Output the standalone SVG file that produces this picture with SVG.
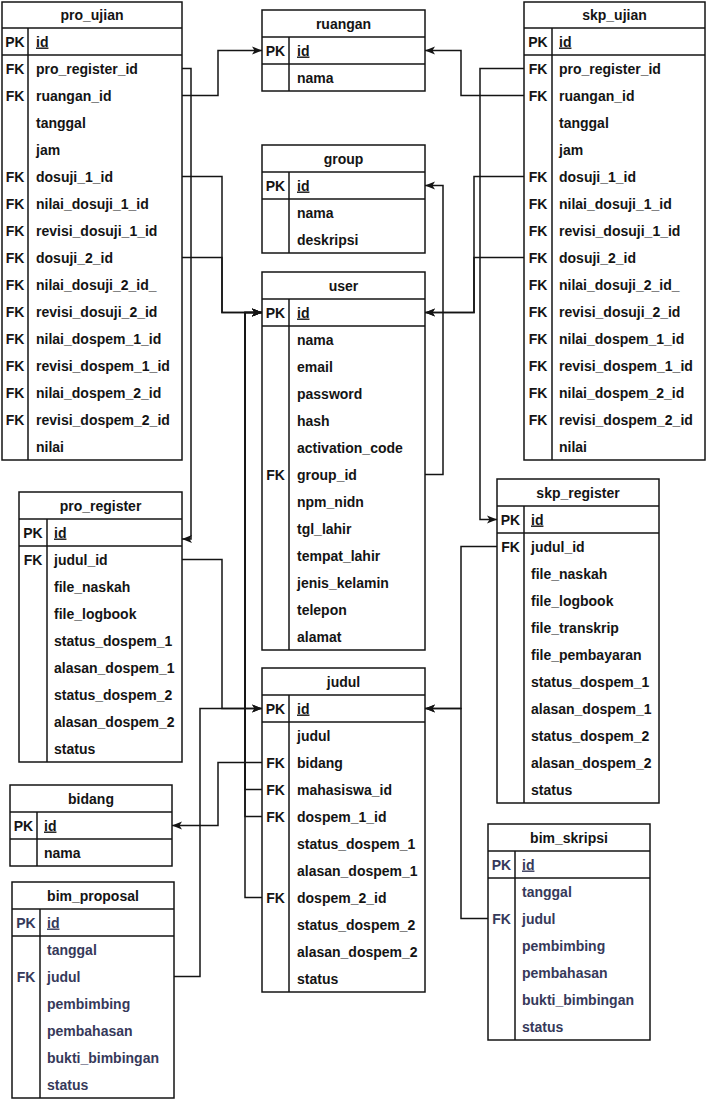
<svg xmlns="http://www.w3.org/2000/svg" width="706" height="1099" viewBox="0 0 706 1099">
<style>
.box{fill:#fff;stroke:#141414;stroke-width:1.5}
.ln{stroke:#141414;stroke-width:1.5;fill:none}
.t{font-family:"Liberation Sans",Arial,sans-serif;font-size:14px;font-weight:bold;fill:#141414}
.c{text-anchor:middle}
.u{text-decoration:underline}
.n{fill:#36395a}
.e{fill:none;stroke:#141414;stroke-width:1.5;marker-end:url(#arr)}
</style>
<defs>
<marker id="arr" markerUnits="userSpaceOnUse" markerWidth="10" markerHeight="10" refX="10" refY="5" orient="auto">
<path d="M0,1 L10,5 L0,9 L2.5,5 z" fill="#141414"/>
</marker>
</defs>
<rect width="706" height="1099" fill="#fff"/>

<g id="connectors">
<path class="e" d="M182,95.5 H218 V50.5 H262"/>
<path class="e" d="M524,95.5 H461 V50.5 H425"/>
<path class="e" d="M182,68.5 H191 V539 H182"/>
<path class="e" d="M182,176.5 H222 V312.5 H262"/>
<path class="e" d="M182,257.5 H222 V312.5 H262"/>
<path class="e" d="M524,176.5 H474 V312.5 H425"/>
<path class="e" d="M524,257.5 H474 V312.5 H425"/>
<path class="e" d="M524,68.5 H480 V519.5 H497"/>
<path class="e" d="M425,474.5 H443 V185.5 H425"/>
<path class="e" d="M182,559.5 H222 V708.5 H262"/>
<path class="e" d="M174,976.5 H200 V708.5 H262"/>
<path class="e" d="M262,762.5 H218 V825.5 H172"/>
<path class="e" d="M262,789.5 H245 V312.5 H262"/>
<path class="e" d="M262,816.5 H245 V312.5 H262"/>
<path class="e" d="M262,897.5 H245 V312.5 H262"/>
<path class="e" d="M497,546.5 H461 V708.5 H425"/>
<path class="e" d="M488,918.5 H461 V708.5 H425"/>
</g>

<g id="pro_ujian">
<rect class="box" x="2" y="2" width="180" height="458"/>
<line class="ln" x1="2" y1="28" x2="182" y2="28"/>
<line class="ln" x1="2" y1="55" x2="182" y2="55"/>
<line class="ln" x1="28" y1="28" x2="28" y2="460"/>
<text class="t c" x="92" y="20">pro_ujian</text>
<text class="t c" x="15" y="46.5">PK</text><text class="t u" x="36" y="46.5">id</text>
<text class="t c" x="15" y="73.5">FK</text><text class="t" x="36" y="73.5">pro_register_id</text>
<text class="t c" x="15" y="100.5">FK</text><text class="t" x="36" y="100.5">ruangan_id</text>
<text class="t" x="36" y="127.5">tanggal</text>
<text class="t" x="36" y="154.5">jam</text>
<text class="t c" x="15" y="181.5">FK</text><text class="t" x="36" y="181.5">dosuji_1_id</text>
<text class="t c" x="15" y="208.5">FK</text><text class="t" x="36" y="208.5">nilai_dosuji_1_id</text>
<text class="t c" x="15" y="235.5">FK</text><text class="t" x="36" y="235.5">revisi_dosuji_1_id</text>
<text class="t c" x="15" y="262.5">FK</text><text class="t" x="36" y="262.5">dosuji_2_id</text>
<text class="t c" x="15" y="289.5">FK</text><text class="t" x="36" y="289.5">nilai_dosuji_2_id_</text>
<text class="t c" x="15" y="316.5">FK</text><text class="t" x="36" y="316.5">revisi_dosuji_2_id</text>
<text class="t c" x="15" y="343.5">FK</text><text class="t" x="36" y="343.5">nilai_dospem_1_id</text>
<text class="t c" x="15" y="370.5">FK</text><text class="t" x="36" y="370.5">revisi_dospem_1_id</text>
<text class="t c" x="15" y="397.5">FK</text><text class="t" x="36" y="397.5">nilai_dospem_2_id</text>
<text class="t c" x="15" y="424.5">FK</text><text class="t" x="36" y="424.5">revisi_dospem_2_id</text>
<text class="t" x="36" y="451.5">nilai</text>
</g>

<g id="skp_ujian">
<rect class="box" x="524" y="2" width="181" height="458"/>
<line class="ln" x1="524" y1="28" x2="705" y2="28"/>
<line class="ln" x1="524" y1="55" x2="705" y2="55"/>
<line class="ln" x1="552" y1="28" x2="552" y2="460"/>
<text class="t c" x="614.5" y="20">skp_ujian</text>
<text class="t c" x="538" y="46.5">PK</text><text class="t u" x="559" y="46.5">id</text>
<text class="t c" x="538" y="73.5">FK</text><text class="t" x="559" y="73.5">pro_register_id</text>
<text class="t c" x="538" y="100.5">FK</text><text class="t" x="559" y="100.5">ruangan_id</text>
<text class="t" x="559" y="127.5">tanggal</text>
<text class="t" x="559" y="154.5">jam</text>
<text class="t c" x="538" y="181.5">FK</text><text class="t" x="559" y="181.5">dosuji_1_id</text>
<text class="t c" x="538" y="208.5">FK</text><text class="t" x="559" y="208.5">nilai_dosuji_1_id</text>
<text class="t c" x="538" y="235.5">FK</text><text class="t" x="559" y="235.5">revisi_dosuji_1_id</text>
<text class="t c" x="538" y="262.5">FK</text><text class="t" x="559" y="262.5">dosuji_2_id</text>
<text class="t c" x="538" y="289.5">FK</text><text class="t" x="559" y="289.5">nilai_dosuji_2_id_</text>
<text class="t c" x="538" y="316.5">FK</text><text class="t" x="559" y="316.5">revisi_dosuji_2_id</text>
<text class="t c" x="538" y="343.5">FK</text><text class="t" x="559" y="343.5">nilai_dospem_1_id</text>
<text class="t c" x="538" y="370.5">FK</text><text class="t" x="559" y="370.5">revisi_dospem_1_id</text>
<text class="t c" x="538" y="397.5">FK</text><text class="t" x="559" y="397.5">nilai_dospem_2_id</text>
<text class="t c" x="538" y="424.5">FK</text><text class="t" x="559" y="424.5">revisi_dospem_2_id</text>
<text class="t" x="559" y="451.5">nilai</text>
</g>

<g id="ruangan">
<rect class="box" x="262" y="10" width="163" height="81"/>
<line class="ln" x1="262" y1="37" x2="425" y2="37"/>
<line class="ln" x1="262" y1="64" x2="425" y2="64"/>
<line class="ln" x1="289" y1="37" x2="289" y2="91"/>
<text class="t c" x="343.5" y="28.5">ruangan</text>
<text class="t c" x="275.5" y="55.5">PK</text><text class="t u" x="297" y="55.5">id</text>
<text class="t" x="297" y="82.5">nama</text>
</g>

<g id="group">
<rect class="box" x="262" y="145" width="163" height="108"/>
<line class="ln" x1="262" y1="172" x2="425" y2="172"/>
<line class="ln" x1="262" y1="199" x2="425" y2="199"/>
<line class="ln" x1="289" y1="172" x2="289" y2="253"/>
<text class="t c" x="343.5" y="163.5">group</text>
<text class="t c" x="275.5" y="190.5">PK</text><text class="t u" x="297" y="190.5">id</text>
<text class="t" x="297" y="217.5">nama</text>
<text class="t" x="297" y="244.5">deskripsi</text>
</g>

<g id="user">
<rect class="box" x="262" y="272" width="163" height="378"/>
<line class="ln" x1="262" y1="299" x2="425" y2="299"/>
<line class="ln" x1="262" y1="326" x2="425" y2="326"/>
<line class="ln" x1="289" y1="299" x2="289" y2="650"/>
<text class="t c" x="343.5" y="290.5">user</text>
<text class="t c" x="275.5" y="317.5">PK</text><text class="t u" x="297" y="317.5">id</text>
<text class="t" x="297" y="344.5">nama</text>
<text class="t" x="297" y="371.5">email</text>
<text class="t" x="297" y="398.5">password</text>
<text class="t" x="297" y="425.5">hash</text>
<text class="t" x="297" y="452.5">activation_code</text>
<text class="t c" x="275.5" y="479.5">FK</text><text class="t" x="297" y="479.5">group_id</text>
<text class="t" x="297" y="506.5">npm_nidn</text>
<text class="t" x="297" y="533.5">tgl_lahir</text>
<text class="t" x="297" y="560.5">tempat_lahir</text>
<text class="t" x="297" y="587.5">jenis_kelamin</text>
<text class="t" x="297" y="614.5">telepon</text>
<text class="t" x="297" y="641.5">alamat</text>
</g>

<g id="judul">
<rect class="box" x="262" y="668" width="163" height="324"/>
<line class="ln" x1="262" y1="695" x2="425" y2="695"/>
<line class="ln" x1="262" y1="722" x2="425" y2="722"/>
<line class="ln" x1="289" y1="695" x2="289" y2="992"/>
<text class="t c" x="343.5" y="686.5">judul</text>
<text class="t c" x="275.5" y="713.5">PK</text><text class="t u" x="297" y="713.5">id</text>
<text class="t" x="297" y="740.5">judul</text>
<text class="t c" x="275.5" y="767.5">FK</text><text class="t" x="297" y="767.5">bidang</text>
<text class="t c" x="275.5" y="794.5">FK</text><text class="t" x="297" y="794.5">mahasiswa_id</text>
<text class="t c" x="275.5" y="821.5">FK</text><text class="t" x="297" y="821.5">dospem_1_id</text>
<text class="t" x="297" y="848.5">status_dospem_1</text>
<text class="t" x="297" y="875.5">alasan_dospem_1</text>
<text class="t c" x="275.5" y="902.5">FK</text><text class="t" x="297" y="902.5">dospem_2_id</text>
<text class="t" x="297" y="929.5">status_dospem_2</text>
<text class="t" x="297" y="956.5">alasan_dospem_2</text>
<text class="t" x="297" y="983.5">status</text>
</g>

<g id="pro_register">
<rect class="box" x="19" y="492" width="163" height="270"/>
<line class="ln" x1="19" y1="519" x2="182" y2="519"/>
<line class="ln" x1="19" y1="546" x2="182" y2="546"/>
<line class="ln" x1="47" y1="519" x2="47" y2="762"/>
<text class="t c" x="100.5" y="510.5">pro_register</text>
<text class="t c" x="33" y="537.5">PK</text><text class="t u" x="54" y="537.5">id</text>
<text class="t c" x="33" y="564.5">FK</text><text class="t" x="54" y="564.5">judul_id</text>
<text class="t" x="54" y="591.5">file_naskah</text>
<text class="t" x="54" y="618.5">file_logbook</text>
<text class="t" x="54" y="645.5">status_dospem_1</text>
<text class="t" x="54" y="672.5">alasan_dospem_1</text>
<text class="t" x="54" y="699.5">status_dospem_2</text>
<text class="t" x="54" y="726.5">alasan_dospem_2</text>
<text class="t" x="54" y="753.5">status</text>
</g>

<g id="skp_register">
<rect class="box" x="497" y="479" width="162" height="324"/>
<line class="ln" x1="497" y1="506" x2="659" y2="506"/>
<line class="ln" x1="497" y1="533" x2="659" y2="533"/>
<line class="ln" x1="524" y1="506" x2="524" y2="803"/>
<text class="t c" x="578" y="497.5">skp_register</text>
<text class="t c" x="510.5" y="524.5">PK</text><text class="t u" x="531" y="524.5">id</text>
<text class="t c" x="510.5" y="551.5">FK</text><text class="t" x="531" y="551.5">judul_id</text>
<text class="t" x="531" y="578.5">file_naskah</text>
<text class="t" x="531" y="605.5">file_logbook</text>
<text class="t" x="531" y="632.5">file_transkrip</text>
<text class="t" x="531" y="659.5">file_pembayaran</text>
<text class="t" x="531" y="686.5">status_dospem_1</text>
<text class="t" x="531" y="713.5">alasan_dospem_1</text>
<text class="t" x="531" y="740.5">status_dospem_2</text>
<text class="t" x="531" y="767.5">alasan_dospem_2</text>
<text class="t" x="531" y="794.5">status</text>
</g>

<g id="bidang">
<rect class="box" x="10" y="785" width="162" height="81"/>
<line class="ln" x1="10" y1="812" x2="172" y2="812"/>
<line class="ln" x1="10" y1="839" x2="172" y2="839"/>
<line class="ln" x1="37" y1="812" x2="37" y2="866"/>
<text class="t c" x="91" y="803.5">bidang</text>
<text class="t c" x="23.5" y="830.5">PK</text><text class="t u" x="44" y="830.5">id</text>
<text class="t" x="44" y="857.5">nama</text>
</g>

<g id="bim_proposal">
<rect class="box" x="12" y="882" width="162" height="216"/>
<line class="ln" x1="12" y1="909" x2="174" y2="909"/>
<line class="ln" x1="12" y1="936" x2="174" y2="936"/>
<line class="ln" x1="40" y1="909" x2="40" y2="1098"/>
<text class="t c" x="93" y="900.5">bim_proposal</text>
<text class="t c n" x="26" y="927.5">PK</text><text class="t u n" x="47" y="927.5">id</text>
<text class="t n" x="47" y="954.5">tanggal</text>
<text class="t c n" x="26" y="981.5">FK</text><text class="t n" x="47" y="981.5">judul</text>
<text class="t n" x="47" y="1008.5">pembimbing</text>
<text class="t n" x="47" y="1035.5">pembahasan</text>
<text class="t n" x="47" y="1062.5">bukti_bimbingan</text>
<text class="t n" x="47" y="1089.5">status</text>
</g>

<g id="bim_skripsi">
<rect class="box" x="488" y="824" width="162" height="216"/>
<line class="ln" x1="488" y1="851" x2="650" y2="851"/>
<line class="ln" x1="488" y1="878" x2="650" y2="878"/>
<line class="ln" x1="515" y1="851" x2="515" y2="1040"/>
<text class="t c" x="569" y="842.5">bim_skripsi</text>
<text class="t c n" x="501.5" y="869.5">PK</text><text class="t u n" x="522" y="869.5">id</text>
<text class="t n" x="522" y="896.5">tanggal</text>
<text class="t c n" x="501.5" y="923.5">FK</text><text class="t n" x="522" y="923.5">judul</text>
<text class="t n" x="522" y="950.5">pembimbing</text>
<text class="t n" x="522" y="977.5">pembahasan</text>
<text class="t n" x="522" y="1004.5">bukti_bimbingan</text>
<text class="t n" x="522" y="1031.5">status</text>
</g>
</svg>
